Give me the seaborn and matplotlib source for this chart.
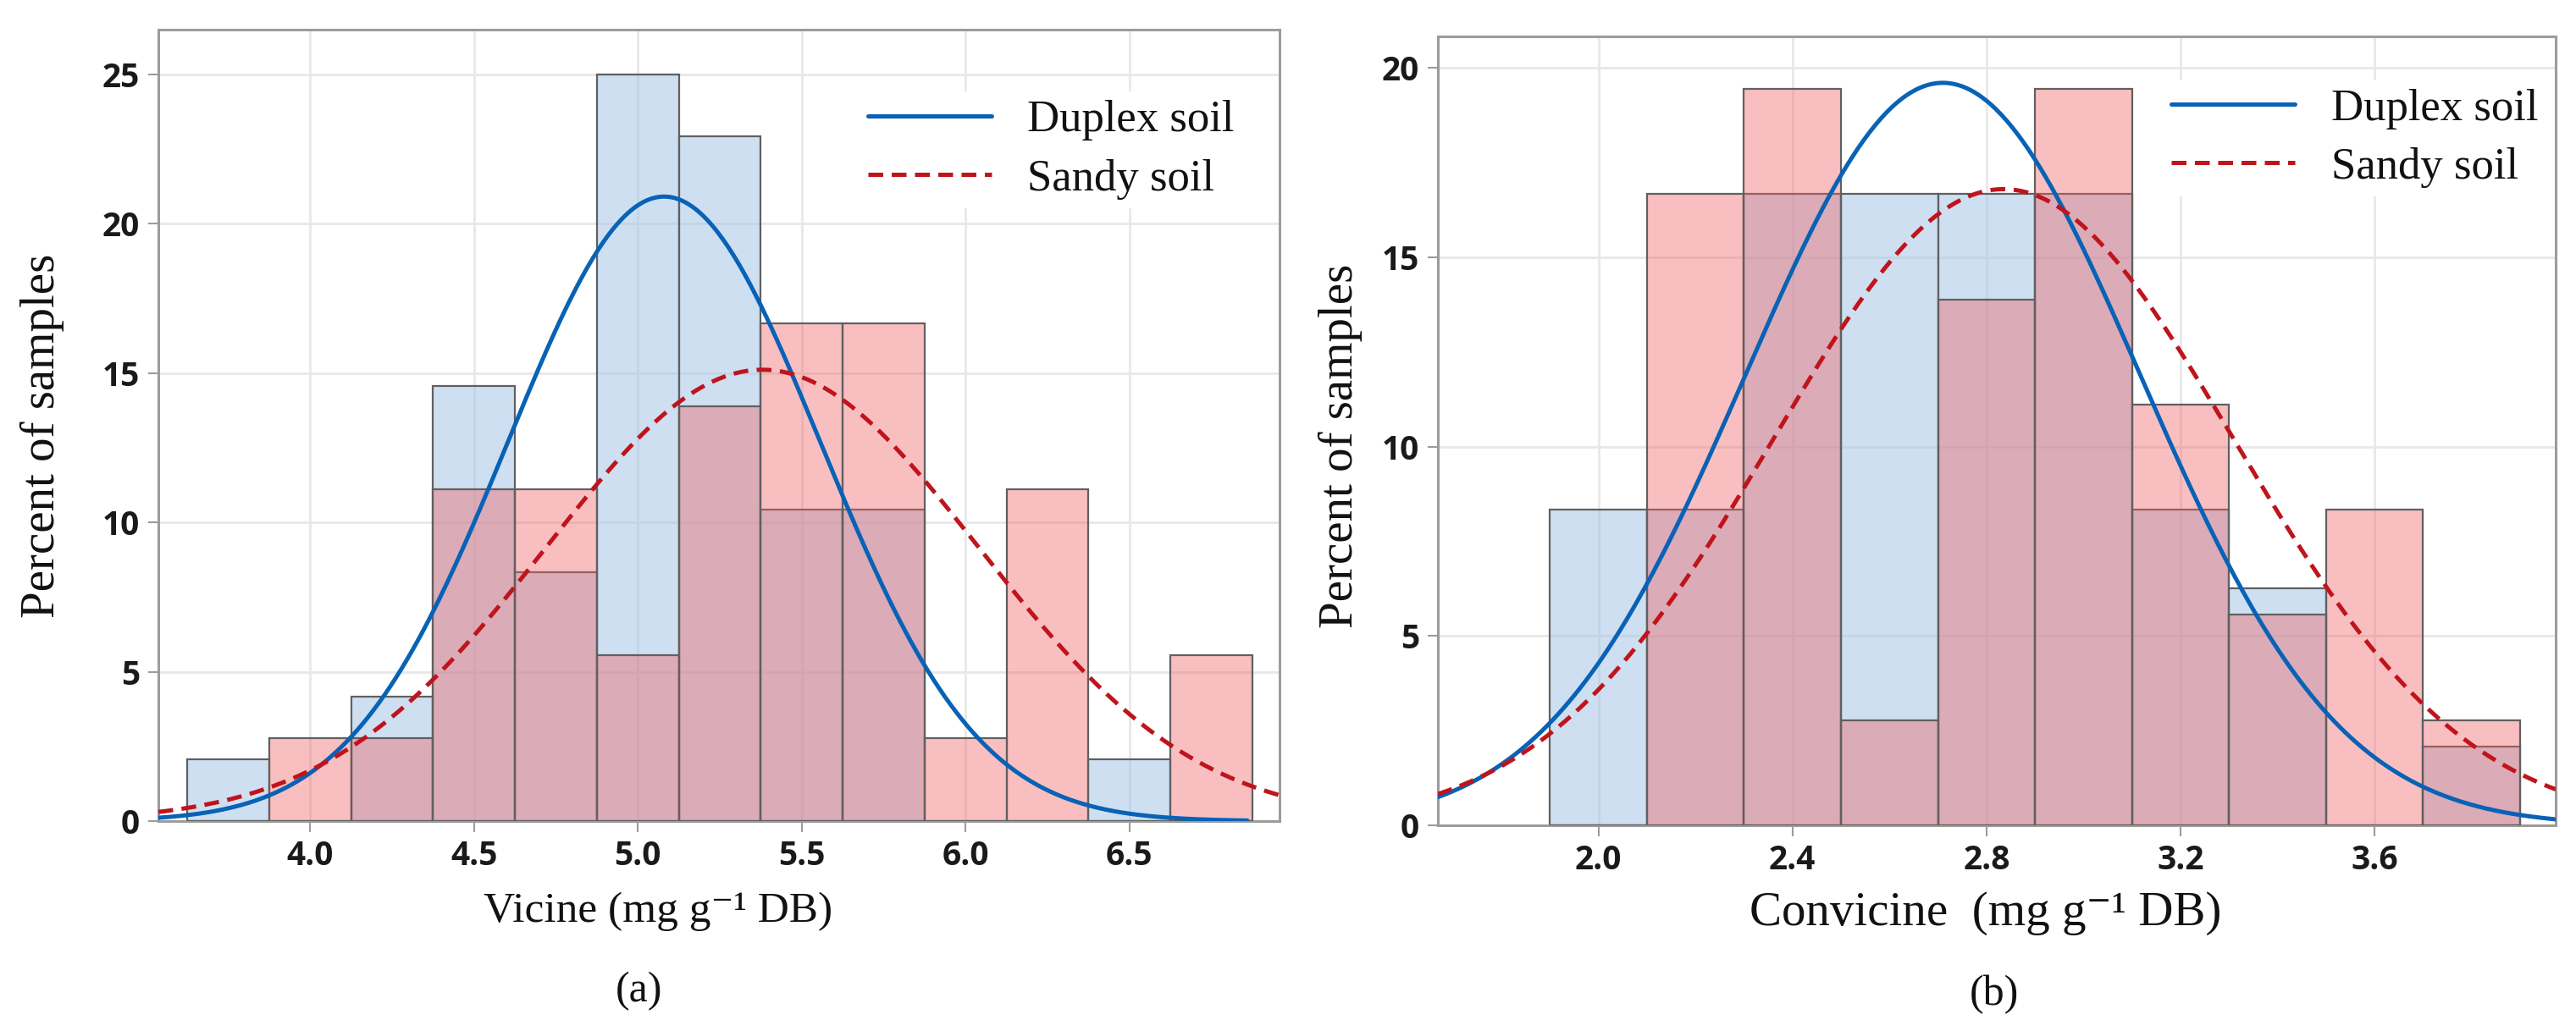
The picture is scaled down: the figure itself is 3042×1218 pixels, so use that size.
import numpy as np
import pandas as pd
import matplotlib
matplotlib.use('Agg')
import matplotlib.pyplot as plt
import seaborn as sns

# percent of samples per bin
vicine_centers = [3.75, 4.0, 4.25, 4.5, 4.75, 5.0, 5.25, 5.5, 5.75, 6.0, 6.25, 6.5, 6.75]
vicine_duplex = [2.08, 0, 4.17, 14.58, 8.33, 25.0, 22.92, 10.42, 10.42, 0, 0, 2.08, 0]
vicine_sandy = [0, 2.78, 2.78, 11.11, 11.11, 5.56, 13.89, 16.67, 16.67, 2.78, 11.11, 0, 5.56]

convicine_centers = [2.0, 2.2, 2.4, 2.6, 2.8, 3.0, 3.2, 3.4, 3.6, 3.8]
convicine_duplex = [8.33, 8.33, 16.67, 16.67, 16.67, 16.67, 8.33, 6.25, 0, 2.08]
convicine_sandy = [0, 16.67, 19.44, 2.78, 13.89, 19.44, 11.11, 5.56, 8.33, 2.78]

# fitted normal curves (mean, sd)
vicine_fit_duplex = (5.08, 0.477)
vicine_fit_sandy = (5.38, 0.66)
convicine_fit_duplex = (2.71, 0.407)
convicine_fit_sandy = (2.835, 0.475)

series_names = ['Duplex soil', 'Sandy soil']

sns.set_style('whitegrid', {'axes.edgecolor': '#9c9c9c', 'grid.color': '#e8e8e8'})
serif = ['Liberation Serif', 'DejaVu Serif']
plt.rcParams['font.family'] = serif
tick_font = {'family': ['Open Sans', 'DejaVu Sans'], 'weight': 'bold', 'size': 28}

BLUE_BAR = '#9fc1e5'
PINK_BAR = '#f05f62'
EDGE = '#606060'
BLUE_LINE = '#0862b6'
RED_LINE = '#c0141c'


def draw_panel(ax, centers, duplex, sandy, fit_d, fit_s, xlim, ylim, xticks, yticks,
               xlabel, xlab_size, xlab_pos, ylab_pos, leg_pos, duplex_end=None):
    centers = np.array(centers)
    w = centers[1] - centers[0]
    edges = list(np.append(centers - w / 2, centers[-1] + w / 2))
    df = pd.DataFrame({'x': centers, 'duplex': duplex, 'sandy': sandy})

    sns.histplot(data=df, x='x', weights='duplex', bins=edges, ax=ax, color=BLUE_BAR,
                 alpha=0.5, edgecolor=EDGE, linewidth=1.6, zorder=2)
    sns.histplot(data=df, x='x', weights='sandy', bins=edges, ax=ax, color=PINK_BAR,
                 alpha=0.4, edgecolor=EDGE, linewidth=1.6, zorder=3)

    end_d = duplex_end if duplex_end is not None else xlim[1]
    xd = np.linspace(xlim[0], end_d, 400)
    xs = np.linspace(xlim[0], xlim[1], 400)
    yd = 100 * w * np.exp(-0.5 * ((xd - fit_d[0]) / fit_d[1]) ** 2) / (fit_d[1] * np.sqrt(2 * np.pi))
    ys = 100 * w * np.exp(-0.5 * ((xs - fit_s[0]) / fit_s[1]) ** 2) / (fit_s[1] * np.sqrt(2 * np.pi))
    sns.lineplot(x=xd, y=yd, ax=ax, color=BLUE_LINE, linewidth=3.6, zorder=5,
                 label=series_names[0], estimator=None, sort=False)
    sns.lineplot(x=xs, y=ys, ax=ax, color=RED_LINE, linewidth=3.6, zorder=5,
                 linestyle=(0, (3.5, 2.0)), label=series_names[1], estimator=None, sort=False)

    ax.set_xlim(*xlim)
    ax.set_ylim(*ylim)
    ax.set_xticks(xticks)
    ax.set_xticklabels(['%.1f' % t for t in xticks], fontdict=tick_font)
    ax.set_yticks(yticks)
    ax.set_yticklabels(['%d' % t for t in yticks], fontdict=tick_font)
    ax.tick_params(axis='both', which='major', length=9, width=1.5, color='#9c9c9c',
                   pad=7, labelcolor='#1a1a1a', bottom=True, left=True)
    ax.grid(True, linewidth=2, color='#e8e8e8', zorder=0)
    ax.set_axisbelow(True)
    for s in ax.spines.values():
        s.set_linewidth(2.2)
        s.set_color('#9c9c9c')

    ax.set_xlabel(xlabel, fontsize=xlab_size, va='center', color='#111111')
    ax.xaxis.set_label_coords(*xlab_pos)
    ax.set_ylabel('Percent of samples', fontsize=41, va='center', color='#111111')
    ax.yaxis.set_label_coords(*ylab_pos)

    leg = ax.legend(loc='upper left', bbox_to_anchor=leg_pos, borderaxespad=0, borderpad=0.2,
                    fontsize=38, frameon=True, facecolor='white', edgecolor='none',
                    framealpha=1, handlelength=2.77, handletextpad=0.8, labelspacing=0.4)
    leg.set_zorder(10)
    for t in leg.get_texts():
        t.set_color('#111111')


fig = plt.figure(figsize=(30.42, 12.18), dpi=100)
ax1 = fig.add_axes([0.0615, 0.2036, 0.4352, 0.7677])
ax2 = fig.add_axes([0.5582, 0.1995, 0.4340, 0.7652])

draw_panel(ax1, vicine_centers, vicine_duplex, vicine_sandy, vicine_fit_duplex, vicine_fit_sandy,
           (3.537, 6.958), (0, 26.5), [4.0, 4.5, 5.0, 5.5, 6.0, 6.5], [0, 5, 10, 15, 20, 25],
           'Vicine (mg g\u207b\u00b9 DB)', 37, (0.446, -0.114), (-0.104, 0.487), (0.625, 0.922),
           duplex_end=6.86)
draw_panel(ax2, convicine_centers, convicine_duplex, convicine_sandy, convicine_fit_duplex,
           convicine_fit_sandy, (1.669, 3.974), (0, 20.83), [2.0, 2.4, 2.8, 3.2, 3.6],
           [0, 5, 10, 15, 20], 'Convicine  (mg g\u207b\u00b9 DB)', 41, (0.490, -0.112),
           (-0.087, 0.481), (0.648, 0.945))

fig.text(0.248, 0.0386, '(a)', fontsize=36, ha='center', va='center', color='#111111')
fig.text(0.774, 0.035, '(b)', fontsize=36, ha='center', va='center', color='#111111')

fig.savefig('out.png', dpi=100, facecolor='white')
